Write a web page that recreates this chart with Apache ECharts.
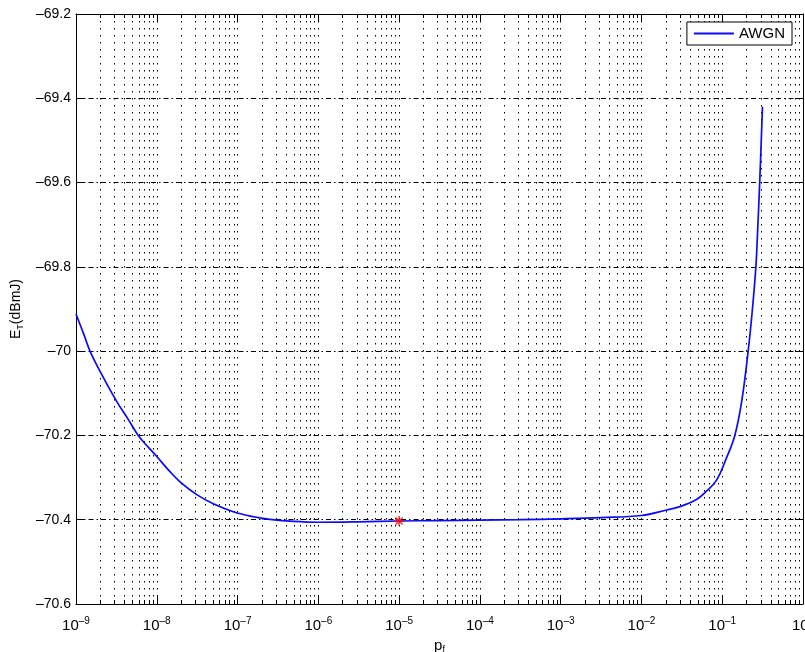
<!DOCTYPE html>
<html>
<head>
<meta charset="utf-8">
<script src="https://cdn.jsdelivr.net/npm/echarts@6/dist/echarts.min.js"></script>
<style>html,body{margin:0;padding:0;background:#fff;}#c{width:805px;height:652px;}</style>
</head>
<body>
<div id="c"></div>
<script>
// p_f values (x) and E_T in dBmJ (y)
var pf = [1e-9, 1.26e-9, 1.49e-9, 2.0e-9, 3.16e-9, 4.47e-9, 5.9e-9, 7.94e-9, 1e-8, 1.41e-8,
          1.94e-8, 3.16e-8, 5.01e-8, 8.85e-8, 1.58e-7, 2.51e-7, 5.01e-7, 1e-6, 3.16e-6, 1e-5,
          3.16e-5, 1e-4, 3.16e-4, 1e-3, 3.16e-3, 1e-2, 2.04e-2, 2.99e-2, 4.79e-2, 6.31e-2,
          8.51e-2, 0.112, 0.1432, 0.174, 0.2094, 0.234, 0.261, 0.275, 0.291, 0.315];
var awgn = [-69.912, -69.962, -70.0, -70.049, -70.118, -70.163, -70.2, -70.229, -70.25, -70.283,
            -70.31, -70.341, -70.362, -70.381, -70.393, -70.399, -70.404, -70.406, -70.405, -70.403,
            -70.402, -70.401, -70.400, -70.398, -70.395, -70.390, -70.377, -70.369, -70.352, -70.333,
            -70.306, -70.255, -70.2, -70.12, -70.0, -69.91, -69.8, -69.71, -69.6, -69.42];
var markerX = [1e-5];
var markerY = [-70.403];
var yTicks = {min: -70.6, max: -69.2, interval: 0.2};
var xRange = {min: 1e-9, max: 1};
var seriesName = 'AWGN';

var font = 'Liberation Sans, Arial, Helvetica, sans-serif';
var chart = echarts.init(document.getElementById('c'));

function expLabel(v) {
  var e = Math.round(Math.log(v) / Math.LN10);
  return '{b|10}{e|' + (e < 0 ? '\u2013' + (-e) : e) + '}';
}
function yLabel(v) {
  var r = Math.round(v * 10) / 10;
  return String(r).replace('-', '\u2013');
}

var lineData = pf.map(function (x, i) { return [x, awgn[i]]; });
var markData = markerX.map(function (x, i) { return [x, markerY[i]]; });

var dotted = {color: '#000', width: 1, type: [1.5, 5.5]};

chart.setOption({
  animation: false,
  backgroundColor: '#fff',
  textStyle: {fontFamily: font},
  grid: {left: 76, top: 14, width: 727, height: 590, containLabel: false, outerBoundsMode: 'none'},
  legend: {
    right: 13, top: 22,
    backgroundColor: '#fff', borderColor: '#000', borderWidth: 1,
    padding: [4, 7, 4, 7],
    itemWidth: 40, itemHeight: 2, itemGap: 5,
    textStyle: {fontSize: 15, color: '#000', fontFamily: font},
    data: [{name: seriesName, icon: 'rect'}]
  },
  xAxis: [{
    type: 'log', logBase: 10, min: xRange.min, max: xRange.max,
    position: 'bottom',
    name: '{p|p}{s|f}', nameLocation: 'middle', nameGap: 33,
    nameTextStyle: {rich: {
      p: {fontSize: 15, color: '#000', fontFamily: font},
      s: {fontSize: 9, color: '#000', fontFamily: font, padding: [8, 0, 0, 0]}
    }},
    axisLine: {show: true, lineStyle: {color: '#000', width: 1}},
    axisTick: {show: true, inside: true, length: 8, lineStyle: {color: '#000'}},
    minorTick: {show: true, splitNumber: 9, length: 4, lineStyle: {color: '#000'}},
    splitLine: {show: true, lineStyle: dotted},
    minorSplitLine: {show: true, lineStyle: dotted},
    axisLabel: {
      margin: 12, formatter: expLabel,
      rich: {
        b: {fontSize: 15, color: '#000', fontFamily: font},
        e: {fontSize: 10, color: '#000', fontFamily: font, padding: [0, 0, 10, 0]}
      }
    }
  }, {
    type: 'log', logBase: 10, min: xRange.min, max: xRange.max,
    position: 'top',
    axisLine: {show: true, lineStyle: {color: '#000', width: 1}},
    axisTick: {show: true, inside: true, length: 8, lineStyle: {color: '#000'}},
    minorTick: {show: true, splitNumber: 9, length: 4, lineStyle: {color: '#000'}},
    splitLine: {show: false},
    axisLabel: {show: false}
  }],
  yAxis: [{
    type: 'value', min: yTicks.min, max: yTicks.max, interval: yTicks.interval,
    position: 'left',
    name: '{e|E}{s|T}{e|(dBmJ)}', nameLocation: 'middle', nameGap: 47, nameRotate: 90,
    nameTextStyle: {rich: {
      e: {fontSize: 14, color: '#000', fontFamily: font},
      s: {fontSize: 9, color: '#000', fontFamily: font, padding: [8, 0, 0, 0]}
    }},
    axisLine: {show: true, lineStyle: {color: '#000', width: 1}},
    axisTick: {show: true, inside: true, length: 8, lineStyle: {color: '#000'}},
    splitLine: {show: true, lineStyle: {color: '#000', width: 1, type: [5, 3, 1.5, 3]}},
    axisLabel: {margin: 5, fontSize: 14, color: '#000', fontFamily: font, formatter: yLabel}
  }, {
    type: 'value', min: yTicks.min, max: yTicks.max, interval: yTicks.interval,
    position: 'right',
    axisLine: {show: true, lineStyle: {color: '#000', width: 1}},
    axisTick: {show: true, inside: true, length: 8, lineStyle: {color: '#000'}},
    splitLine: {show: false},
    axisLabel: {show: false}
  }],
  series: [{
    name: seriesName, type: 'line', data: lineData,
    xAxisIndex: 0, yAxisIndex: 0,
    symbol: 'none', smooth: 0.4,
    lineStyle: {color: '#0a0aff', width: 1.7},
    itemStyle: {color: '#0a0aff'}
  }, {
    name: 'min', type: 'scatter', data: markData,
    xAxisIndex: 0, yAxisIndex: 0,
    symbol: 'path://M0,5L10,5M5,0L5,10M1.5,1.5L8.5,8.5M8.5,1.5L1.5,8.5',
    symbolSize: 10,
    itemStyle: {color: 'none', borderColor: '#ff0000', borderWidth: 1.5},
    z: 5
  }]
});
</script>
</body>
</html>
